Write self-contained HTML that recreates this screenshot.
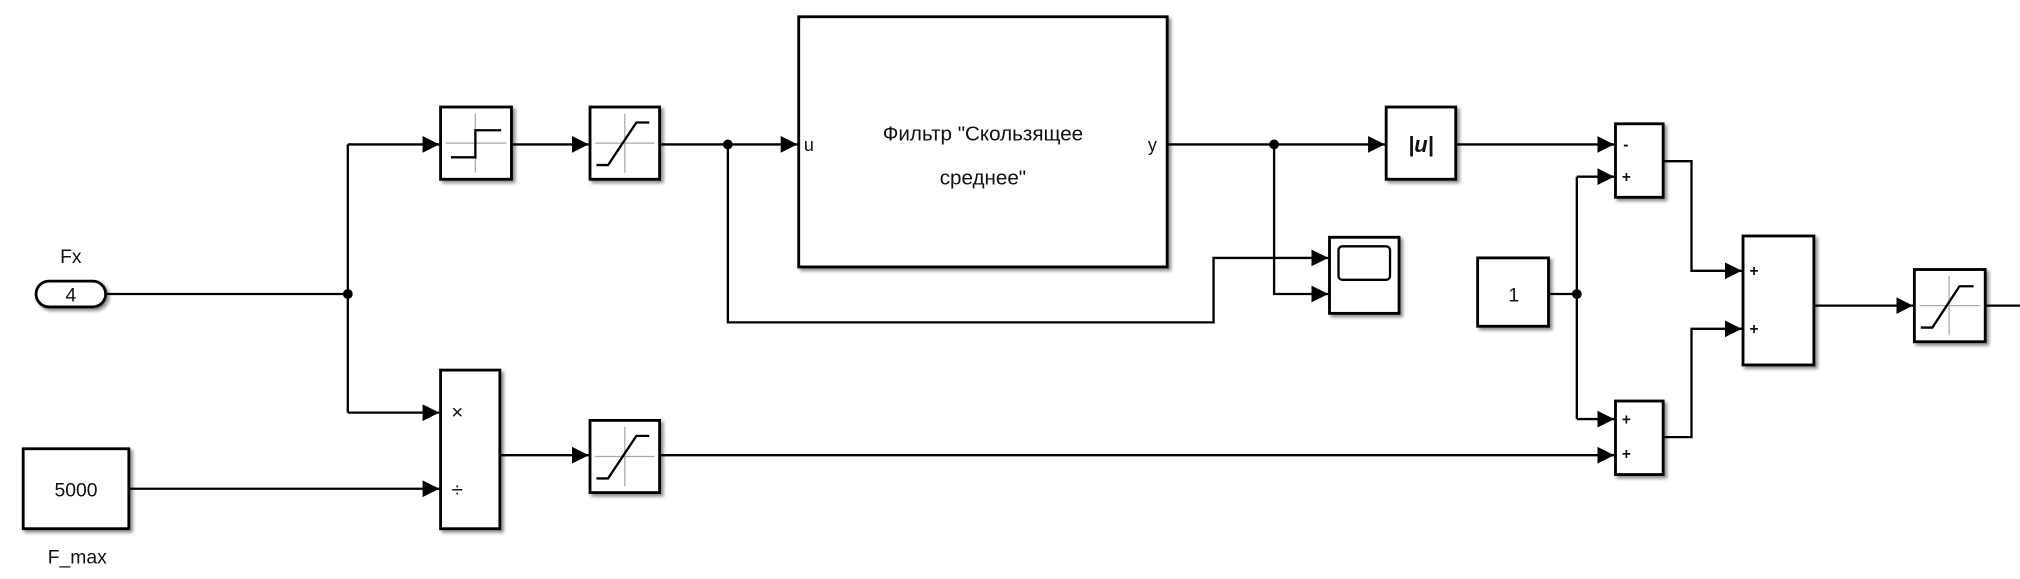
<!DOCTYPE html>
<html><head><meta charset="utf-8"><style>
html,body{margin:0;padding:0;background:#fff;width:2020px;height:579px;overflow:hidden}
svg{display:block}
text{font-family:"Liberation Sans",sans-serif;fill:#111}
</style></head><body>
<svg width="2020" height="579" viewBox="0 0 1568 449" preserveAspectRatio="none" xmlns="http://www.w3.org/2000/svg">
<defs>
<marker id="a" viewBox="0 0 10 10" refX="10" refY="5" markerWidth="13" markerHeight="13" markerUnits="userSpaceOnUse" orient="auto"><path d="M0,0L10,5L0,10z" fill="#000"/></marker>
<filter id="s" x="-10%" y="-10%" width="130%" height="130%"><feDropShadow dx="2" dy="2" stdDeviation="1.2" flood-color="#000" flood-opacity="0.45"/></filter>
</defs>
<g fill="#fff" stroke="#000" stroke-width="2.2" filter="url(#s)">
<rect x="28" y="218" width="54" height="20" rx="10"/>
<rect x="342" y="83" width="55" height="56"/>
<rect x="458" y="83" width="54" height="56"/>
<rect x="620" y="13" width="286" height="194"/>
<rect x="1076" y="83" width="54" height="56"/>
<rect x="1032" y="184" width="54" height="59"/>
<rect x="1254" y="96" width="37" height="57"/>
<rect x="1147" y="200" width="55" height="53"/>
<rect x="1254" y="311" width="37" height="57"/>
<rect x="1353" y="183" width="55" height="100"/>
<rect x="1486" y="209" width="55" height="56"/>
<rect x="18" y="348" width="82" height="62"/>
<rect x="342" y="287" width="46" height="123"/>
<rect x="458" y="326" width="54" height="56"/>
</g>
<g fill="none" stroke="#000" stroke-width="1.8">
<path d="M82,228H270M270,112V320"/>
<path d="M270,112H341" marker-end="url(#a)"/>
<path d="M397,112H457" marker-end="url(#a)"/>
<path d="M512,112H619" marker-end="url(#a)"/>
<path d="M565,112V250H942V200H1031" marker-end="url(#a)"/>
<path d="M906,112H1075" marker-end="url(#a)"/>
<path d="M989,112V228H1031" marker-end="url(#a)"/>
<path d="M1130,112H1253" marker-end="url(#a)"/>
<path d="M1202,228H1224M1224,137V325"/>
<path d="M1224,137H1253" marker-end="url(#a)"/>
<path d="M1224,325H1253" marker-end="url(#a)"/>
<path d="M1291,125H1313V210H1352" marker-end="url(#a)"/>
<path d="M1291,339H1313V255H1352" marker-end="url(#a)"/>
<path d="M1408,237H1485" marker-end="url(#a)"/>
<path d="M1541,237H1568"/>
<path d="M100,379H341" marker-end="url(#a)"/>
<path d="M270,320H341" marker-end="url(#a)"/>
<path d="M388,353H457" marker-end="url(#a)"/>
<path d="M512,353H1253" marker-end="url(#a)"/>
</g>
<g fill="#000"><circle cx="270" cy="228" r="3.8"/><circle cx="565" cy="112" r="3.8"/><circle cx="989" cy="112" r="3.8"/><circle cx="1224" cy="228" r="3.8"/></g>
<g stroke="#aaa" stroke-width="1" fill="none">
<path d="M369,88V134M346,111H393"/>
<path d="M485,88V134M462,111H508"/>
<path d="M485,331V377M462,354H508"/>
<path d="M1513,214V260M1490,237H1537"/>
</g>
<g stroke="#000" stroke-width="1.8" fill="none">
<path d="M350,122H369V101H389"/>
<path d="M463,128H472L494,95H504"/>
<path d="M463,371H472L494,338H504"/>
<path d="M1491,254H1500L1521,222H1532"/>
<rect x="1039" y="191" width="40" height="26" rx="3"/>
</g>
<text x="55" y="204" font-size="15" text-anchor="middle">Fx</text>
<text x="55" y="234" font-size="15" text-anchor="middle">4</text>
<text x="59" y="385" font-size="15" text-anchor="middle">5000</text>
<text x="60" y="437" font-size="15" text-anchor="middle">F_max</text>
<text x="1175" y="234" font-size="15" text-anchor="middle">1</text>
<text x="763" y="109" font-size="16" text-anchor="middle">Фильтр "Скользящее</text>
<text x="763" y="143" font-size="16" text-anchor="middle">среднее"</text>
<text x="624" y="117" font-size="14">u</text>
<text x="891" y="117" font-size="14">y</text>
<text x="1103" y="118" font-size="17" text-anchor="middle" font-family="Liberation Serif" font-style="italic" font-weight="bold">|u|</text>
<text x="355" y="325" font-size="16" text-anchor="middle">×</text>
<text x="355" y="385" font-size="16" text-anchor="middle">÷</text>
<g font-size="12" font-weight="bold"><text x="1260" y="116">-</text><text x="1259" y="141">+</text>
<text x="1259" y="329">+</text><text x="1259" y="356">+</text>
<text x="1358" y="214">+</text><text x="1358" y="259">+</text></g>
</svg>
</body></html>
